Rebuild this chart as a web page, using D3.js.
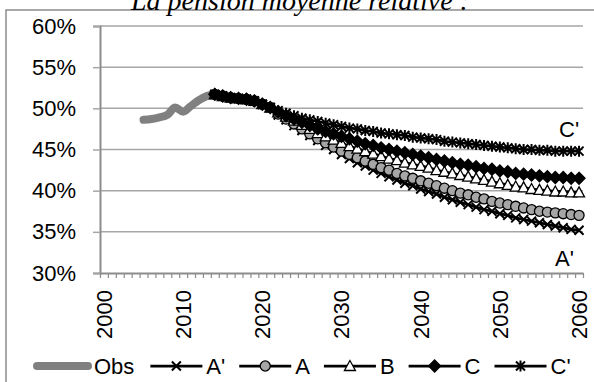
<!DOCTYPE html>
<html>
<head>
<meta charset="utf-8">
<script src="https://cdn.jsdelivr.net/npm/d3@7"></script>
<style>
  body { margin: 0; background: #fff; }
  text { font-family: "Liberation Sans", Arial, sans-serif; }
</style>
</head>
<body>
<div id="chart"></div>
<script>
// observed values 2005-2014, projections 2014-2060 (in %)
var obsYears = [2005, 2006, 2007, 2008, 2009, 2010, 2011, 2012, 2013, 2014];
var obsValues = [48.6, 48.7, 48.9, 49.2, 50.1, 49.6, 50.3, 51.0, 51.5, 51.8];

var projYears = d3.range(2014, 2061);
var aPrime = [51.7, 51.5, 51.3, 51.2, 51.1, 50.9, 50.5, 50.1,
    49.2, 48.6, 47.9, 47.3, 46.7, 46.1, 45.5, 45.0, 44.4,
    43.9, 43.4, 43.0, 42.5, 42.1, 41.7, 41.3, 40.9, 40.6, 40.2,
    39.9, 39.6, 39.2, 38.9, 38.6, 38.3, 38.0, 37.7, 37.5, 37.2,
    37.0, 36.7, 36.5, 36.3, 36.1, 35.9, 35.7, 35.5, 35.3, 35.2];
var aValues = [51.7, 51.5, 51.3, 51.2, 51.1, 50.9, 50.5, 50.1,
    49.3, 48.7, 48.1, 47.5, 46.9, 46.3, 45.8, 45.3, 44.8,
    44.4, 44.0, 43.6, 43.2, 42.8, 42.5, 42.1, 41.8, 41.5, 41.2,
    40.9, 40.6, 40.3, 40.0, 39.7, 39.5, 39.2, 39.0, 38.7, 38.5,
    38.3, 38.1, 37.9, 37.7, 37.5, 37.4, 37.3, 37.2, 37.1, 37.0];
var bValues = [51.7, 51.5, 51.3, 51.2, 51.1, 50.9, 50.5, 50.1,
    49.5, 49.0, 48.5, 48.0, 47.5, 47.0, 46.6, 46.2, 45.8,
    45.4, 45.1, 44.8, 44.5, 44.2, 43.9, 43.7, 43.4, 43.2, 43.0,
    42.8, 42.5, 42.3, 42.1, 41.9, 41.7, 41.5, 41.3, 41.1, 40.9,
    40.7, 40.5, 40.4, 40.2, 40.1, 40.0, 39.9, 39.9, 39.8, 39.8];
var cValues = [51.7, 51.5, 51.3, 51.2, 51.1, 50.9, 50.5, 50.1,
    49.6, 49.1, 48.7, 48.3, 47.9, 47.5, 47.2, 46.9, 46.6,
    46.3, 46.0, 45.7, 45.5, 45.2, 45.0, 44.8, 44.6, 44.4, 44.2,
    44.0, 43.8, 43.6, 43.4, 43.2, 43.1, 42.9, 42.7, 42.6, 42.4,
    42.3, 42.1, 42.0, 41.9, 41.8, 41.7, 41.6, 41.6, 41.5, 41.5];
var cPrime = [51.7, 51.5, 51.3, 51.2, 51.1, 50.9, 50.5, 50.1,
    49.7, 49.4, 49.1, 48.8, 48.6, 48.4, 48.2, 48.0, 47.8,
    47.6, 47.5, 47.3, 47.2, 47.0, 46.9, 46.8, 46.7, 46.5, 46.4,
    46.3, 46.2, 46.0, 45.9, 45.8, 45.7, 45.6, 45.5, 45.4, 45.3,
    45.2, 45.1, 45.0, 45.0, 44.9, 44.9, 44.8, 44.8, 44.8, 44.8];

var seriesNames = ["A'", "A", "B", "C", "C'"];
var seriesValues = [aPrime, aValues, bValues, cValues, cPrime];
var seriesMarkers = ["cross", "circle", "triangle", "diamond", "star"];
var yTicks = [0.30, 0.35, 0.40, 0.45, 0.50, 0.55, 0.60];
var xLabels = [2000, 2010, 2020, 2030, 2040, 2050, 2060];

var width = 594, height = 382;
var plot = { left: 100, right: 583, top: 26, bottom: 273 };

var svg = d3.select('#chart').append('svg')
    .attr('width', width)
    .attr('height', height);

var x = d3.scaleLinear().domain([1999.5, 2060.5]).range([plot.left, plot.right]);
var y = d3.scaleLinear().domain([0.30, 0.60]).range([plot.bottom, plot.top]);

// chart frame
svg.append('rect')
    .attr('x', 6).attr('y', 10)
    .attr('width', 620).attr('height', 420)
    .attr('fill', 'none')
    .attr('stroke', '#8c8c8c')
    .attr('stroke-width', 1.5);

// title, cut at the top like the original
svg.append('text')
    .attr('x', 300).attr('y', 10)
    .attr('text-anchor', 'middle')
    .style('font-family', '"Liberation Serif", "Times New Roman", serif')
    .style('font-style', 'italic')
    .style('font-size', '28px')
    .text('La pension moyenne relative :');

// gridlines
svg.append('g').selectAll('line')
    .data(yTicks.slice(1))
    .join('line')
    .attr('x1', plot.left).attr('x2', plot.right)
    .attr('y1', d => y(d)).attr('y2', d => y(d))
    .attr('stroke', '#a6a6a6')
    .attr('stroke-width', 1.5);

// y axis
var yAxis = d3.axisLeft(y)
    .tickValues(yTicks)
    .tickFormat(d3.format('.0%'))
    .tickSize(7)
    .tickPadding(17);
var yAxisG = svg.append('g')
    .attr('transform', 'translate(' + plot.left + ',0)')
    .call(yAxis);
yAxisG.select('.domain').attr('stroke', '#8c8c8c').attr('stroke-width', 2);
yAxisG.selectAll('.tick line').attr('stroke', '#a6a6a6').attr('stroke-width', 1.5);
yAxisG.selectAll('.tick text')
    .attr('fill', '#000')
    .style('font-size', '22px')
    .style('font-family', '"Liberation Sans", Arial, sans-serif');

// x axis: ticks between yearly categories, labels every ten years
var boundaries = d3.range(1999.5, 2061, 1);
var xAxisG = svg.append('g')
    .attr('transform', 'translate(0,' + plot.bottom + ')')
    .call(d3.axisBottom(x).tickValues(boundaries).tickFormat('').tickSize(5).tickSizeOuter(0));
xAxisG.select('.domain').attr('stroke', '#8c8c8c').attr('stroke-width', 2);
xAxisG.selectAll('.tick line').attr('stroke', '#8c8c8c').attr('stroke-width', 1.2);

svg.append('g').selectAll('text')
    .data(xLabels)
    .join('text')
    .attr('transform', d => 'translate(' + x(d) + ',290) rotate(-90)')
    .attr('text-anchor', 'end')
    .attr('dy', '0.36em')
    .style('font-size', '22px')
    .text(d => d);

// marker shapes
function markerPath(type) {
    if (type === 'circle') return d3.symbol(d3.symbolCircle, 80)();
    if (type === 'triangle') return 'M0,-5.5L5.5,4.5L-5.5,4.5Z';
    if (type === 'diamond') return 'M0,-6L6,0L0,6L-6,0Z';
    if (type === 'cross') return 'M-4.5,-4.5L4.5,4.5M-4.5,4.5L4.5,-4.5';
    return 'M-4.5,-4.5L4.5,4.5M-4.5,4.5L4.5,-4.5M0,-5.5L0,5.5';
}
function markerFill(type) {
    if (type === 'circle') return '#a6a6a6';
    if (type === 'triangle') return '#fff';
    if (type === 'diamond') return '#000';
    return 'none';
}
function markerStroke(type) {
    return type === 'cross' || type === 'star' ? 2 : 1.3;
}

var line = d3.line()
    .x(d => x(d.year))
    .y(d => y(d.value / 100));

// observed series
var obsData = obsYears.map((yr, i) => ({ year: yr, value: obsValues[i] }));
svg.append('path')
    .datum(obsData)
    .attr('d', line.curve(d3.curveMonotoneX))
    .attr('fill', 'none')
    .attr('stroke', '#808080')
    .attr('stroke-width', 8)
    .attr('stroke-linecap', 'round')
    .attr('stroke-linejoin', 'round');
line.curve(d3.curveLinear);

// projection series
seriesValues.forEach(function (values, s) {
    var data = projYears.map((yr, i) => ({ year: yr, value: values[i] }));
    var g = svg.append('g');
    g.append('path')
        .datum(data)
        .attr('d', line)
        .attr('fill', 'none')
        .attr('stroke', '#000')
        .attr('stroke-width', 2.75);
    g.selectAll('path.mark')
        .data(data)
        .join('path')
        .attr('class', 'mark')
        .attr('transform', d => 'translate(' + x(d.year) + ',' + y(d.value / 100) + ')')
        .attr('d', markerPath(seriesMarkers[s]))
        .attr('fill', markerFill(seriesMarkers[s]))
        .attr('stroke', '#000')
        .attr('stroke-width', markerStroke(seriesMarkers[s]));
});

// end labels
svg.append('text').attr('x', 559).attr('y', 137).style('font-size', '22px').text("C'");
svg.append('text').attr('x', 555).attr('y', 266).style('font-size', '22px').text("A'");

// legend
var legendY = 366;
var legend = svg.append('g');
var cursor = 33;
legend.append('line')
    .attr('x1', cursor + 4).attr('x2', cursor + 55)
    .attr('y1', legendY).attr('y2', legendY)
    .attr('stroke', '#808080').attr('stroke-width', 8).attr('stroke-linecap', 'round');
var obsText = legend.append('text')
    .attr('x', cursor + 61).attr('y', legendY).attr('dy', '0.36em')
    .style('font-size', '22px').text('Obs');
cursor += 61 + obsText.node().getComputedTextLength() + 16;

seriesNames.forEach(function (name, s) {
    legend.append('line')
        .attr('x1', cursor).attr('x2', cursor + 52)
        .attr('y1', legendY).attr('y2', legendY)
        .attr('stroke', '#000').attr('stroke-width', 2.75);
    legend.append('path')
        .attr('transform', 'translate(' + (cursor + 26) + ',' + legendY + ')')
        .attr('d', markerPath(seriesMarkers[s]))
        .attr('fill', markerFill(seriesMarkers[s]))
        .attr('stroke', '#000')
        .attr('stroke-width', markerStroke(seriesMarkers[s]));
    var t = legend.append('text')
        .attr('x', cursor + 56).attr('y', legendY).attr('dy', '0.36em')
        .style('font-size', '22px').text(name);
    cursor += 56 + t.node().getComputedTextLength() + 14;
});
</script>
</body>
</html>
